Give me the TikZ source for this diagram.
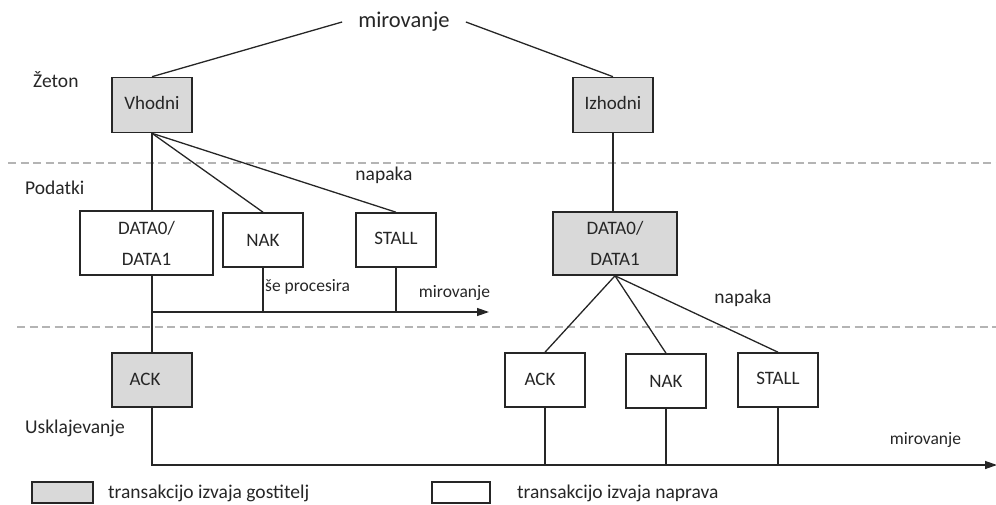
\documentclass[tikz,border=0pt]{standalone}
\usepackage{fontspec}
\setmainfont{Carlito}
\usetikzlibrary{arrows.meta}
\definecolor{boxgray}{HTML}{D9D9D9}
\definecolor{ink}{HTML}{262626}
\definecolor{dashgray}{HTML}{B4B4B4}
\tikzset{
  box/.style={draw=ink, line width=1.6pt, minimum width=80pt, minimum height=55pt, inner sep=0pt, text=ink, font=\fontsize{19}{31}\selectfont, align=center},
  hostbox/.style={box, fill=boxgray},
  devbox/.style={box, fill=white},
  conn/.style={draw=ink, line width=1.3pt},
  sep/.style={draw=dashgray, line width=1.6pt, dash pattern=on 8pt off 4.5pt},
  lbl/.style={text=ink, inner sep=0pt, font=\fontsize{19.5}{22}\selectfont},
  small/.style={text=ink, inner sep=0pt, font=\fontsize{17.5}{20}\selectfont},
  arr/.style={-{Triangle[length=12pt,width=8pt]}}
}
\begin{document}
\begin{tikzpicture}[x=1pt,y=-1pt]
\useasboundingbox (0,0) rectangle (996,505);
% separators
\coordinate (s1a) at (8,163);
\coordinate (s1b) at (996,163);
\coordinate (s2a) at (17,327);
\coordinate (s2b) at (996,327);
\draw[sep] (s1a) -- (s1b);
\draw[sep] (s2a) -- (s2b);
% top
\node[text=ink, inner ysep=0pt, inner xsep=16pt, font=\fontsize{22.5}{26}\selectfont] (mir) at (404,22) {mirovanje};
\node[hostbox] (vh) at (152,105) {\raisebox{4pt}{Vhodni}};
\node[hostbox] (iz) at (613,105) {\raisebox{4pt}{Izhodni}};
% data stage
\node[devbox, minimum width=133pt, minimum height=64pt] (d1) at (146.5,243) {DATA0/\\DATA1};
\node[devbox, minimum height=54pt] (nak1) at (263,240) {NAK};
\node[devbox, minimum height=54pt] (st1) at (396,240) {\raisebox{3pt}{STALL}};
\node[hostbox, minimum width=124pt, minimum height=63pt] (d2) at (615,243.5) {DATA0/\\DATA1};
% handshake stage
\node[hostbox, minimum height=54pt] (ack1) at (152,380) {\hspace*{-14pt}\raisebox{2pt}{ACK}};
\node[devbox, minimum height=54pt] (ack2) at (545,380) {\hspace*{-10pt}\raisebox{2pt}{ACK}};
\node[devbox, minimum height=54pt] (nak2) at (666,381) {NAK};
\node[devbox, minimum height=54pt] (st2) at (778,380) {\raisebox{4pt}{STALL}};
% labels
\node[lbl, anchor=west] (zet) at (33,80) {Žeton};
\node[lbl, anchor=west] (pod) at (25,188) {Podatki};
\node[lbl, anchor=west] (usk) at (25,428) {Usklajevanje};
\node[lbl] (nap1) at (384,175) {napaka};
\node[lbl] (nap2) at (743,298) {napaka};
\node[small, anchor=west] (sep1) at (265,287) {še procesira};
\node[small] (mir1) at (454.5,293) {mirovanje};
\node[small] (mir2) at (925.5,440) {mirovanje};
% connectors from top
\draw[conn] (mir.west) -- (vh.north);
\draw[conn] (mir.east) -- (iz.north);
\draw[conn] (vh.south) -- (vh.south |- d1.north);
\draw[conn] (vh.south) -- (nak1.north);
\draw[conn] (vh.south) -- (st1.north);
\draw[conn] (iz.south) -- (iz.south |- d2.north);
\draw[conn] (d2.south) -- (ack2.north);
\draw[conn] (d2.south) -- (nak2.north);
\draw[conn] (d2.south) -- (st2.north);
% first return line
\coordinate (h1s) at (152,312);
\coordinate (h1e) at (489,312);
\draw[conn] (d1.south -| ack1.north) -- (ack1.north);
\draw[conn] (nak1.south) -- (nak1.south |- h1s);
\draw[conn] (st1.south) -- (st1.south |- h1s);
\draw[conn, arr] (h1s) -- (h1e);
% second return line
\coordinate (h2e) at (997,465);
\draw[conn, arr] (ack1.south) |- (h2e);
\draw[conn] (ack2.south) -- (ack2.south |- h2e);
\draw[conn] (nak2.south) -- (nak2.south |- h2e);
\draw[conn] (st2.south) -- (st2.south |- h2e);
% legend
\node[box, fill=boxgray, minimum width=61pt, minimum height=21pt] (lg1) at (62.5,492.5) {};
\node[lbl, anchor=west] (lt1) at (108,493) {transakcijo izvaja gostitelj};
\node[box, fill=white, minimum width=58pt, minimum height=21pt] (lg2) at (461,492.5) {};
\node[lbl, anchor=west] (lt2) at (517,493) {transakcijo izvaja naprava};
\end{tikzpicture}
\end{document}
